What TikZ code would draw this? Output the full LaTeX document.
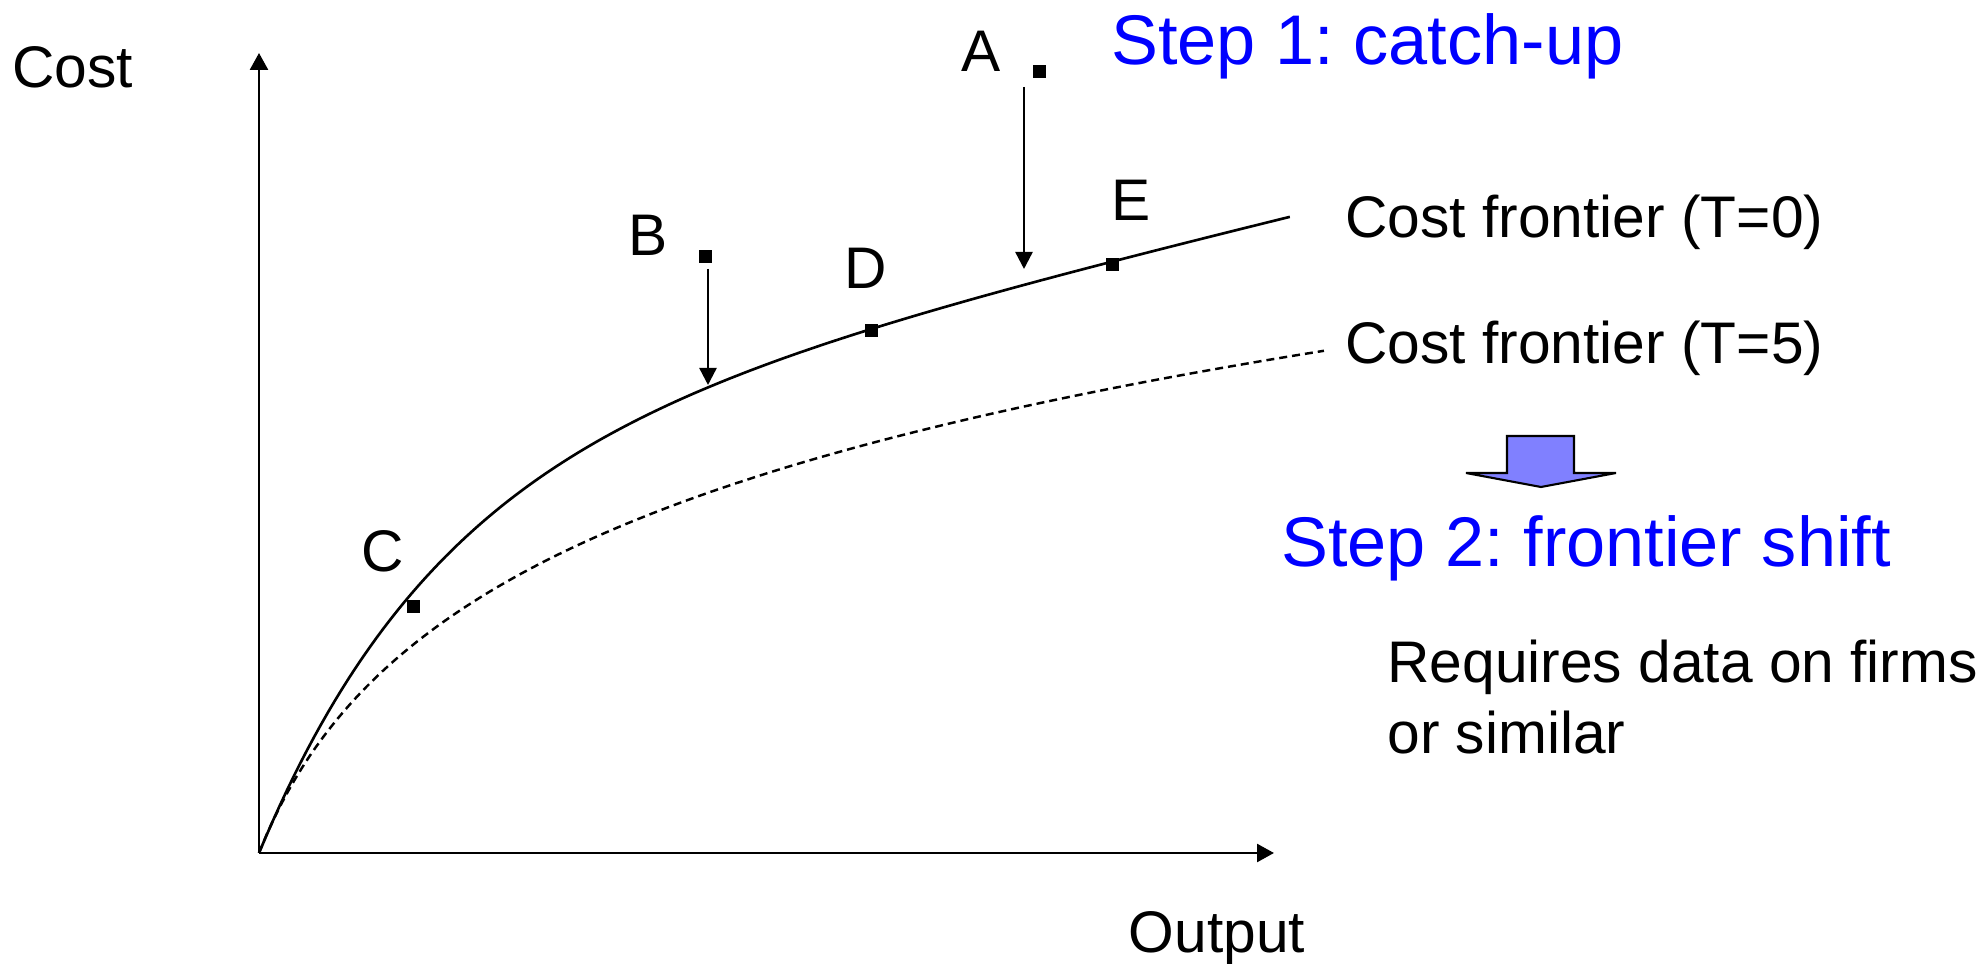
\documentclass[tikz,border=0pt]{standalone}
\usepackage{fontspec}
\setmainfont{Liberation Sans}
\usetikzlibrary{arrows.meta}
\frenchspacing

\begin{document}
\begin{tikzpicture}[
    sqpt/.style = {
        fill         = black,
        inner sep    = 0pt,
        minimum size = 0.13cm
    },
    lab/.style = {
        font = \fontsize{16.7}{20.4}\selectfont
    },
    steptxt/.style = {
        font   = \fontsize{20}{24}\selectfont,
        color  = blue,
        anchor = west
    },
    axisarr/.style = {
        line width = 0.75pt,
        -{Triangle[length=0.17cm, width=0.18cm]}
    },
    droparr/.style = {
        line width = 0.7pt,
        -{Triangle[length=0.17cm, width=0.17cm]}
    }
]

\useasboundingbox (0,0) rectangle (19.82,9.64);

% ================================================================
%  EJES
% ================================================================

\coordinate (orig) at (2.59,1.11);
\coordinate (ytop) at (2.59,9.11);
\coordinate (xend) at (12.74,1.11);

\draw[axisarr] (orig) -- (ytop);
\draw[axisarr] (orig) -- (xend);

\node[lab, anchor=west] (costlab) at (0.00,8.97) {Cost};
\node[lab]              (outlab)  at (12.17,0.26) {Output};

% ================================================================
%  FRONTERAS DE COSTE (T=0 continua, T=5 discontinua)
%  T=0: y = 3.90 (1 - e^{-u/1.8}) + 0.24 u ;  T=5: y = 1.82 ln(1 + u/0.72)
% ================================================================

\draw[line width=0.75pt] plot[domain=0:10.31, samples=150]
    ({2.59+\x}, {1.11 + 3.90*(1-exp(-\x/1.8)) + 0.24*\x});

\draw[line width=0.7pt, dash pattern=on 0.08cm off 0.05cm] plot[domain=0:10.65, samples=150]
    ({2.59+\x}, {1.11 + 1.82*ln(1+\x/0.72)});

\node[lab, anchor=west] (f0lab) at (13.33,7.42) {Cost frontier (T=0)};
\node[lab, anchor=west] (f5lab) at (13.33,6.16) {Cost frontier (T=5)};

% ================================================================
%  EMPRESAS (cuadrado + letra)
% ================================================================

\foreach \nm/\px/\py/\lx/\ly in {A/10.39/8.92/9.81/9.13,
                                 B/7.05/7.07/6.48/7.29,
                                 C/4.13/3.57/3.83/4.13,
                                 D/8.71/6.33/8.66/6.96,
                                 E/11.12/6.99/11.31/7.64}{
    \node[sqpt] (pt\nm)  at (\px,\py) {};
    \node[lab]  (lab\nm) at (\lx,\ly) {\nm};
}

% ================================================================
%  PASO 1: ACERCAMIENTO A LA FRONTERA
% ================================================================

\coordinate (fromA) at (10.24,8.77);
\coordinate (toA)   at (10.24,6.95);
\coordinate (fromB) at (7.08,6.95);
\coordinate (toB)   at (7.08,5.79);

\draw[droparr] (fromA) -- (toA);
\draw[droparr] (fromB) -- (toB);

\node[steptxt] (step1) at (10.99,9.18) {Step 1: catch-up};

% ================================================================
%  PASO 2: DESPLAZAMIENTO DE LA FRONTERA
% ================================================================

\draw[fill=blue!50, line width=0.6pt]
    (15.07,5.28) -- (15.74,5.28) -- (15.74,4.91) -- (16.16,4.91)
    -- (15.41,4.77) -- (14.66,4.91) -- (15.07,4.91) -- cycle;

\node[steptxt] (step2) at (12.69,4.16) {Step 2: frontier shift};

\node[lab, anchor=west, align=left] (reqtxt) at (13.75,2.67)
    {Requires data on firms\\or similar};

\end{tikzpicture}
\end{document}
